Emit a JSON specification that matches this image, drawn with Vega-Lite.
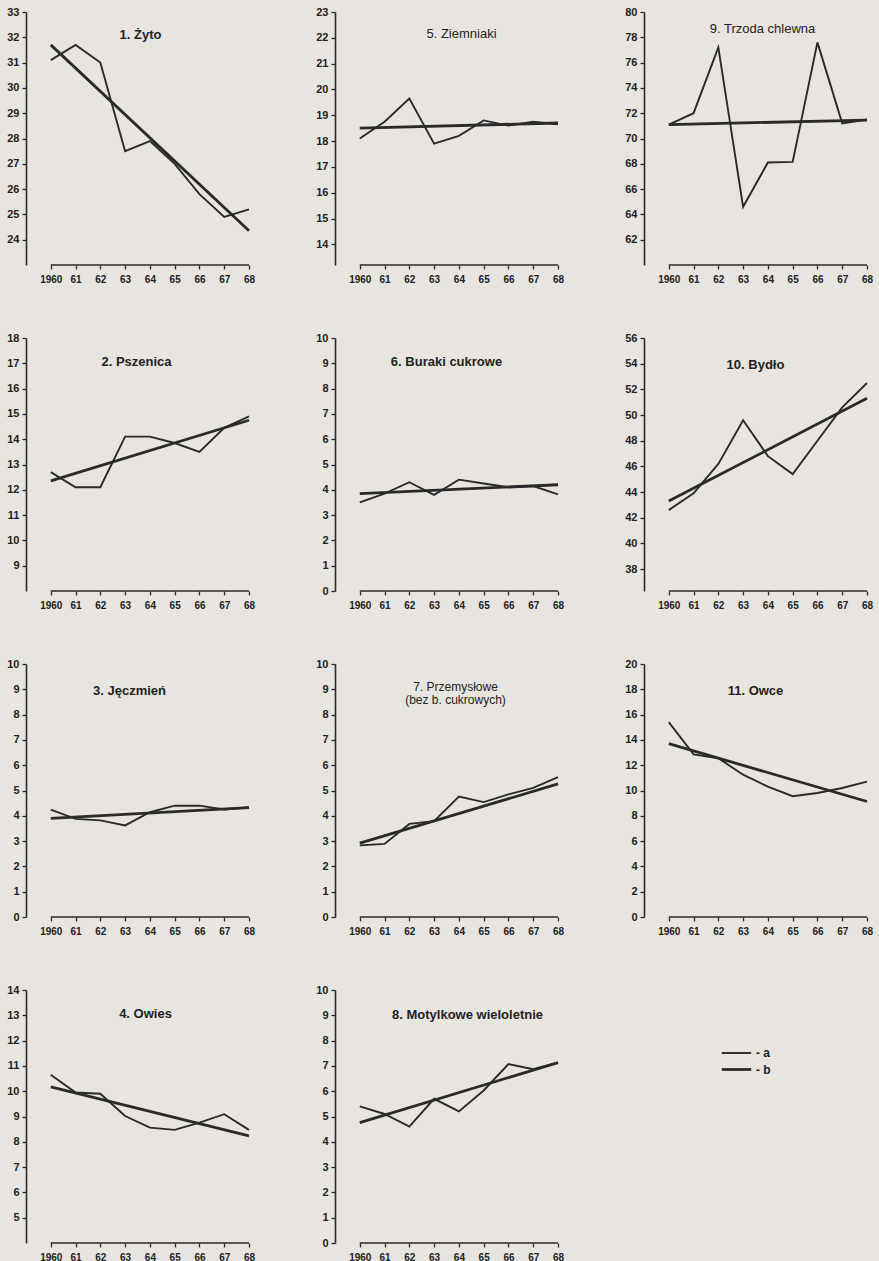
{
  "$schema": "https://vega.github.io/schema/vega-lite/v6.json",
  "background": "#e8e5e1",
  "padding": {"left": 6, "top": 6, "right": 8, "bottom": 14},
  "datasets": {
    "d": [
      {"p":1,"yr":1960,"s":"a","v":31.1},{"p":1,"yr":1961,"s":"a","v":31.7},{"p":1,"yr":1962,"s":"a","v":31.0},{"p":1,"yr":1963,"s":"a","v":27.5},{"p":1,"yr":1964,"s":"a","v":27.9},{"p":1,"yr":1965,"s":"a","v":27.0},{"p":1,"yr":1966,"s":"a","v":25.8},{"p":1,"yr":1967,"s":"a","v":24.9},{"p":1,"yr":1968,"s":"a","v":25.2},
      {"p":1,"yr":1960,"s":"b","v":31.7},{"p":1,"yr":1968,"s":"b","v":24.35},
      {"p":5,"yr":1960,"s":"a","v":18.1},{"p":5,"yr":1961,"s":"a","v":18.75},{"p":5,"yr":1962,"s":"a","v":19.65},{"p":5,"yr":1963,"s":"a","v":17.9},{"p":5,"yr":1964,"s":"a","v":18.2},{"p":5,"yr":1965,"s":"a","v":18.8},{"p":5,"yr":1966,"s":"a","v":18.6},{"p":5,"yr":1967,"s":"a","v":18.75},{"p":5,"yr":1968,"s":"a","v":18.65},
      {"p":5,"yr":1960,"s":"b","v":18.5},{"p":5,"yr":1968,"s":"b","v":18.7},
      {"p":9,"yr":1960,"s":"a","v":71.1},{"p":9,"yr":1961,"s":"a","v":72.0},{"p":9,"yr":1962,"s":"a","v":77.2},{"p":9,"yr":1963,"s":"a","v":64.6},{"p":9,"yr":1964,"s":"a","v":68.1},{"p":9,"yr":1965,"s":"a","v":68.15},{"p":9,"yr":1966,"s":"a","v":77.6},{"p":9,"yr":1967,"s":"a","v":71.2},{"p":9,"yr":1968,"s":"a","v":71.5},
      {"p":9,"yr":1960,"s":"b","v":71.1},{"p":9,"yr":1968,"s":"b","v":71.45},
      {"p":2,"yr":1960,"s":"a","v":12.7},{"p":2,"yr":1961,"s":"a","v":12.1},{"p":2,"yr":1962,"s":"a","v":12.1},{"p":2,"yr":1963,"s":"a","v":14.1},{"p":2,"yr":1964,"s":"a","v":14.1},{"p":2,"yr":1965,"s":"a","v":13.85},{"p":2,"yr":1966,"s":"a","v":13.5},{"p":2,"yr":1967,"s":"a","v":14.45},{"p":2,"yr":1968,"s":"a","v":14.9},
      {"p":2,"yr":1960,"s":"b","v":12.35},{"p":2,"yr":1968,"s":"b","v":14.75},
      {"p":6,"yr":1960,"s":"a","v":3.5},{"p":6,"yr":1961,"s":"a","v":3.85},{"p":6,"yr":1962,"s":"a","v":4.3},{"p":6,"yr":1963,"s":"a","v":3.8},{"p":6,"yr":1964,"s":"a","v":4.4},{"p":6,"yr":1965,"s":"a","v":4.25},{"p":6,"yr":1966,"s":"a","v":4.1},{"p":6,"yr":1967,"s":"a","v":4.15},{"p":6,"yr":1968,"s":"a","v":3.82},
      {"p":6,"yr":1960,"s":"b","v":3.85},{"p":6,"yr":1968,"s":"b","v":4.2},
      {"p":10,"yr":1960,"s":"a","v":42.6},{"p":10,"yr":1961,"s":"a","v":43.9},{"p":10,"yr":1962,"s":"a","v":46.2},{"p":10,"yr":1963,"s":"a","v":49.6},{"p":10,"yr":1964,"s":"a","v":46.8},{"p":10,"yr":1965,"s":"a","v":45.4},{"p":10,"yr":1966,"s":"a","v":48.0},{"p":10,"yr":1967,"s":"a","v":50.6},{"p":10,"yr":1968,"s":"a","v":52.5},
      {"p":10,"yr":1960,"s":"b","v":43.3},{"p":10,"yr":1968,"s":"b","v":51.3},
      {"p":3,"yr":1960,"s":"a","v":4.24},{"p":3,"yr":1961,"s":"a","v":3.88},{"p":3,"yr":1962,"s":"a","v":3.82},{"p":3,"yr":1963,"s":"a","v":3.62},{"p":3,"yr":1964,"s":"a","v":4.14},{"p":3,"yr":1965,"s":"a","v":4.4},{"p":3,"yr":1966,"s":"a","v":4.4},{"p":3,"yr":1967,"s":"a","v":4.25},{"p":3,"yr":1968,"s":"a","v":4.34},
      {"p":3,"yr":1960,"s":"b","v":3.9},{"p":3,"yr":1968,"s":"b","v":4.32},
      {"p":7,"yr":1960,"s":"a","v":2.83},{"p":7,"yr":1961,"s":"a","v":2.89},{"p":7,"yr":1962,"s":"a","v":3.68},{"p":7,"yr":1963,"s":"a","v":3.79},{"p":7,"yr":1964,"s":"a","v":4.76},{"p":7,"yr":1965,"s":"a","v":4.54},{"p":7,"yr":1966,"s":"a","v":4.85},{"p":7,"yr":1967,"s":"a","v":5.1},{"p":7,"yr":1968,"s":"a","v":5.53},
      {"p":7,"yr":1960,"s":"b","v":2.92},{"p":7,"yr":1968,"s":"b","v":5.26},
      {"p":11,"yr":1960,"s":"a","v":15.4},{"p":11,"yr":1961,"s":"a","v":12.85},{"p":11,"yr":1962,"s":"a","v":12.55},{"p":11,"yr":1963,"s":"a","v":11.25},{"p":11,"yr":1964,"s":"a","v":10.3},{"p":11,"yr":1965,"s":"a","v":9.55},{"p":11,"yr":1966,"s":"a","v":9.8},{"p":11,"yr":1967,"s":"a","v":10.2},{"p":11,"yr":1968,"s":"a","v":10.7},
      {"p":11,"yr":1960,"s":"b","v":13.7},{"p":11,"yr":1968,"s":"b","v":9.13},
      {"p":4,"yr":1960,"s":"a","v":10.65},{"p":4,"yr":1961,"s":"a","v":9.95},{"p":4,"yr":1962,"s":"a","v":9.9},{"p":4,"yr":1963,"s":"a","v":9.02},{"p":4,"yr":1964,"s":"a","v":8.56},{"p":4,"yr":1965,"s":"a","v":8.47},{"p":4,"yr":1966,"s":"a","v":8.76},{"p":4,"yr":1967,"s":"a","v":9.09},{"p":4,"yr":1968,"s":"a","v":8.47},
      {"p":4,"yr":1960,"s":"b","v":10.17},{"p":4,"yr":1968,"s":"b","v":8.23},
      {"p":8,"yr":1960,"s":"a","v":5.4},{"p":8,"yr":1961,"s":"a","v":5.1},{"p":8,"yr":1962,"s":"a","v":4.6},{"p":8,"yr":1963,"s":"a","v":5.7},{"p":8,"yr":1964,"s":"a","v":5.2},{"p":8,"yr":1965,"s":"a","v":6.03},{"p":8,"yr":1966,"s":"a","v":7.07},{"p":8,"yr":1967,"s":"a","v":6.87},{"p":8,"yr":1968,"s":"a","v":7.13},
      {"p":8,"yr":1960,"s":"b","v":4.76},{"p":8,"yr":1968,"s":"b","v":7.13}
    ]
  },
  "spacing": 48,
  "vconcat": [
    {"spacing": 60, "hconcat": [
      {"width": 223, "height": 253, "title": {"text": "1. Żyto", "offset": -36, "dx": 3},
       "layer": [
        {"data": {"name": "d"}, "transform": [{"filter": "datum.p==1"}], "mark": {"type": "line", "color": "#2a2a2a"},
         "encoding": {
          "x": {"field": "yr", "type": "quantitative", "scale": {"domain": [1959, 1968], "nice": false, "zero": false}, "axis": {"values": [1960,1961,1962,1963,1964,1965,1966,1967,1968], "labelExpr": "datum.value == 1960 ? '1960' : substring(toString(datum.value), 2)"}},
          "y": {"field": "v", "type": "quantitative", "scale": {"domain": [23, 33], "nice": false, "zero": false}, "axis": {"values": [24,25,26,27,28,29,30,31,32,33]}},
          "detail": {"field": "s"},
          "strokeWidth": {"field": "s", "type": "ordinal", "scale": {"domain": ["a", "b"], "range": [1.9, 2.8]}, "legend": {"orient": "none", "legendX": 700, "legendY": 1031, "title": null, "symbolType": "M-1.7,0H1.7", "symbolSize": 300, "rowPadding": 0, "labelOffset": 9, "labelExpr": "'- ' + datum.label"}}}},
        {"data": {"values": [{}]}, "mark": {"type": "rule", "color": "#2a2a2a", "strokeWidth": 1.6},
         "encoding": {"x": {"datum": 1960, "axis": {"values": [1960,1961,1962,1963,1964,1965,1966,1967,1968], "labelExpr": "datum.value == 1960 ? '1960' : substring(toString(datum.value), 2)"}}, "x2": {"datum": 1968}, "y": {"datum": 23, "axis": {"values": [24,25,26,27,28,29,30,31,32,33]}}}}
       ]},
      {"width": 223, "height": 253, "title": {"text": "5. Ziemniaki", "offset": -35, "dx": 15, "fontWeight": "normal"},
       "layer": [
        {"data": {"name": "d"}, "transform": [{"filter": "datum.p==5"}], "mark": {"type": "line", "color": "#2a2a2a"},
         "encoding": {
          "x": {"field": "yr", "type": "quantitative", "scale": {"domain": [1959, 1968], "nice": false, "zero": false}, "axis": {"values": [1960,1961,1962,1963,1964,1965,1966,1967,1968], "labelExpr": "datum.value == 1960 ? '1960' : substring(toString(datum.value), 2)"}},
          "y": {"field": "v", "type": "quantitative", "scale": {"domain": [13.2, 23], "nice": false, "zero": false}, "axis": {"values": [14,15,16,17,18,19,20,21,22,23]}},
          "detail": {"field": "s"},
          "strokeWidth": {"field": "s", "type": "ordinal", "scale": {"domain": ["a", "b"], "range": [1.9, 2.8]}, "legend": {"orient": "none", "legendX": 700, "legendY": 1031, "title": null, "symbolType": "M-1.7,0H1.7", "symbolSize": 300, "rowPadding": 0, "labelOffset": 9, "labelExpr": "'- ' + datum.label"}}}},
        {"data": {"values": [{}]}, "mark": {"type": "rule", "color": "#2a2a2a", "strokeWidth": 1.6},
         "encoding": {"x": {"datum": 1960, "axis": {"values": [1960,1961,1962,1963,1964,1965,1966,1967,1968], "labelExpr": "datum.value == 1960 ? '1960' : substring(toString(datum.value), 2)"}}, "x2": {"datum": 1968}, "y": {"datum": 13.2, "axis": {"values": [14,15,16,17,18,19,20,21,22,23]}}}}
       ]},
      {"width": 223, "height": 253, "title": {"text": "9. Trzoda chlewna", "offset": -30, "dx": 7, "fontWeight": "normal"},
       "layer": [
        {"data": {"name": "d"}, "transform": [{"filter": "datum.p==9"}], "mark": {"type": "line", "color": "#2a2a2a"},
         "encoding": {
          "x": {"field": "yr", "type": "quantitative", "scale": {"domain": [1959, 1968], "nice": false, "zero": false}, "axis": {"values": [1960,1961,1962,1963,1964,1965,1966,1967,1968], "labelExpr": "datum.value == 1960 ? '1960' : substring(toString(datum.value), 2)"}},
          "y": {"field": "v", "type": "quantitative", "scale": {"domain": [60, 80], "nice": false, "zero": false}, "axis": {"values": [62,64,66,68,70,72,74,76,78,80]}},
          "detail": {"field": "s"},
          "strokeWidth": {"field": "s", "type": "ordinal", "scale": {"domain": ["a", "b"], "range": [1.9, 2.8]}, "legend": {"orient": "none", "legendX": 700, "legendY": 1031, "title": null, "symbolType": "M-1.7,0H1.7", "symbolSize": 300, "rowPadding": 0, "labelOffset": 9, "labelExpr": "'- ' + datum.label"}}}},
        {"data": {"values": [{}]}, "mark": {"type": "rule", "color": "#2a2a2a", "strokeWidth": 1.6},
         "encoding": {"x": {"datum": 1960, "axis": {"values": [1960,1961,1962,1963,1964,1965,1966,1967,1968], "labelExpr": "datum.value == 1960 ? '1960' : substring(toString(datum.value), 2)"}}, "x2": {"datum": 1968}, "y": {"datum": 60, "axis": {"values": [62,64,66,68,70,72,74,76,78,80]}}}}
       ]}
    ]},
    {"spacing": 60, "hconcat": [
      {"width": 223, "height": 253, "title": {"text": "2. Pszenica", "offset": -37, "dx": -1},
       "layer": [
        {"data": {"name": "d"}, "transform": [{"filter": "datum.p==2"}], "mark": {"type": "line", "color": "#2a2a2a"},
         "encoding": {
          "x": {"field": "yr", "type": "quantitative", "scale": {"domain": [1959, 1968], "nice": false, "zero": false}, "axis": {"values": [1960,1961,1962,1963,1964,1965,1966,1967,1968], "labelExpr": "datum.value == 1960 ? '1960' : substring(toString(datum.value), 2)"}},
          "y": {"field": "v", "type": "quantitative", "scale": {"domain": [8, 18], "nice": false, "zero": false}, "axis": {"values": [9,10,11,12,13,14,15,16,17,18]}},
          "detail": {"field": "s"},
          "strokeWidth": {"field": "s", "type": "ordinal", "scale": {"domain": ["a", "b"], "range": [1.9, 2.8]}, "legend": {"orient": "none", "legendX": 700, "legendY": 1031, "title": null, "symbolType": "M-1.7,0H1.7", "symbolSize": 300, "rowPadding": 0, "labelOffset": 9, "labelExpr": "'- ' + datum.label"}}}},
        {"data": {"values": [{}]}, "mark": {"type": "rule", "color": "#2a2a2a", "strokeWidth": 1.6},
         "encoding": {"x": {"datum": 1960, "axis": {"values": [1960,1961,1962,1963,1964,1965,1966,1967,1968], "labelExpr": "datum.value == 1960 ? '1960' : substring(toString(datum.value), 2)"}}, "x2": {"datum": 1968}, "y": {"datum": 8, "axis": {"values": [9,10,11,12,13,14,15,16,17,18]}}}}
       ]},
      {"width": 223, "height": 253, "title": {"text": "6. Buraki cukrowe", "offset": -37},
       "layer": [
        {"data": {"name": "d"}, "transform": [{"filter": "datum.p==6"}], "mark": {"type": "line", "color": "#2a2a2a"},
         "encoding": {
          "x": {"field": "yr", "type": "quantitative", "scale": {"domain": [1959, 1968], "nice": false, "zero": false}, "axis": {"values": [1960,1961,1962,1963,1964,1965,1966,1967,1968], "labelExpr": "datum.value == 1960 ? '1960' : substring(toString(datum.value), 2)"}},
          "y": {"field": "v", "type": "quantitative", "scale": {"domain": [0, 10], "nice": false, "zero": false}, "axis": {"values": [0,1,2,3,4,5,6,7,8,9,10]}},
          "detail": {"field": "s"},
          "strokeWidth": {"field": "s", "type": "ordinal", "scale": {"domain": ["a", "b"], "range": [1.9, 2.8]}, "legend": {"orient": "none", "legendX": 700, "legendY": 1031, "title": null, "symbolType": "M-1.7,0H1.7", "symbolSize": 300, "rowPadding": 0, "labelOffset": 9, "labelExpr": "'- ' + datum.label"}}}},
        {"data": {"values": [{}]}, "mark": {"type": "rule", "color": "#2a2a2a", "strokeWidth": 1.6},
         "encoding": {"x": {"datum": 1960, "axis": {"values": [1960,1961,1962,1963,1964,1965,1966,1967,1968], "labelExpr": "datum.value == 1960 ? '1960' : substring(toString(datum.value), 2)"}}, "x2": {"datum": 1968}, "y": {"datum": 0, "axis": {"values": [0,1,2,3,4,5,6,7,8,9,10]}}}}
       ]},
      {"width": 223, "height": 253, "title": {"text": "10. Bydło", "offset": -40},
       "layer": [
        {"data": {"name": "d"}, "transform": [{"filter": "datum.p==10"}], "mark": {"type": "line", "color": "#2a2a2a"},
         "encoding": {
          "x": {"field": "yr", "type": "quantitative", "scale": {"domain": [1959, 1968], "nice": false, "zero": false}, "axis": {"values": [1960,1961,1962,1963,1964,1965,1966,1967,1968], "labelExpr": "datum.value == 1960 ? '1960' : substring(toString(datum.value), 2)"}},
          "y": {"field": "v", "type": "quantitative", "scale": {"domain": [36.3, 56], "nice": false, "zero": false}, "axis": {"values": [38,40,42,44,46,48,50,52,54,56]}},
          "detail": {"field": "s"},
          "strokeWidth": {"field": "s", "type": "ordinal", "scale": {"domain": ["a", "b"], "range": [1.9, 2.8]}, "legend": {"orient": "none", "legendX": 700, "legendY": 1031, "title": null, "symbolType": "M-1.7,0H1.7", "symbolSize": 300, "rowPadding": 0, "labelOffset": 9, "labelExpr": "'- ' + datum.label"}}}},
        {"data": {"values": [{}]}, "mark": {"type": "rule", "color": "#2a2a2a", "strokeWidth": 1.6},
         "encoding": {"x": {"datum": 1960, "axis": {"values": [1960,1961,1962,1963,1964,1965,1966,1967,1968], "labelExpr": "datum.value == 1960 ? '1960' : substring(toString(datum.value), 2)"}}, "x2": {"datum": 1968}, "y": {"datum": 36.3, "axis": {"values": [38,40,42,44,46,48,50,52,54,56]}}}}
       ]}
    ]},
    {"spacing": 60, "hconcat": [
      {"width": 223, "height": 253, "title": {"text": "3. Jęczmień", "offset": -40, "dx": -8},
       "layer": [
        {"data": {"name": "d"}, "transform": [{"filter": "datum.p==3"}], "mark": {"type": "line", "color": "#2a2a2a"},
         "encoding": {
          "x": {"field": "yr", "type": "quantitative", "scale": {"domain": [1959, 1968], "nice": false, "zero": false}, "axis": {"values": [1960,1961,1962,1963,1964,1965,1966,1967,1968], "labelExpr": "datum.value == 1960 ? '1960' : substring(toString(datum.value), 2)"}},
          "y": {"field": "v", "type": "quantitative", "scale": {"domain": [0, 10], "nice": false, "zero": false}, "axis": {"values": [0,1,2,3,4,5,6,7,8,9,10]}},
          "detail": {"field": "s"},
          "strokeWidth": {"field": "s", "type": "ordinal", "scale": {"domain": ["a", "b"], "range": [1.9, 2.8]}, "legend": {"orient": "none", "legendX": 700, "legendY": 1031, "title": null, "symbolType": "M-1.7,0H1.7", "symbolSize": 300, "rowPadding": 0, "labelOffset": 9, "labelExpr": "'- ' + datum.label"}}}},
        {"data": {"values": [{}]}, "mark": {"type": "rule", "color": "#2a2a2a", "strokeWidth": 1.6},
         "encoding": {"x": {"datum": 1960, "axis": {"values": [1960,1961,1962,1963,1964,1965,1966,1967,1968], "labelExpr": "datum.value == 1960 ? '1960' : substring(toString(datum.value), 2)"}}, "x2": {"datum": 1968}, "y": {"datum": 0, "axis": {"values": [0,1,2,3,4,5,6,7,8,9,10]}}}}
       ]},
      {"width": 223, "height": 253, "title": {"text": ["7. Przemysłowe", "(bez b. cukrowych)"], "offset": -49, "dx": 9, "fontWeight": "normal", "fontSize": 12, "lineHeight": 13},
       "layer": [
        {"data": {"name": "d"}, "transform": [{"filter": "datum.p==7"}], "mark": {"type": "line", "color": "#2a2a2a"},
         "encoding": {
          "x": {"field": "yr", "type": "quantitative", "scale": {"domain": [1959, 1968], "nice": false, "zero": false}, "axis": {"values": [1960,1961,1962,1963,1964,1965,1966,1967,1968], "labelExpr": "datum.value == 1960 ? '1960' : substring(toString(datum.value), 2)"}},
          "y": {"field": "v", "type": "quantitative", "scale": {"domain": [0, 10], "nice": false, "zero": false}, "axis": {"values": [0,1,2,3,4,5,6,7,8,9,10]}},
          "detail": {"field": "s"},
          "strokeWidth": {"field": "s", "type": "ordinal", "scale": {"domain": ["a", "b"], "range": [1.9, 2.8]}, "legend": {"orient": "none", "legendX": 700, "legendY": 1031, "title": null, "symbolType": "M-1.7,0H1.7", "symbolSize": 300, "rowPadding": 0, "labelOffset": 9, "labelExpr": "'- ' + datum.label"}}}},
        {"data": {"values": [{}]}, "mark": {"type": "rule", "color": "#2a2a2a", "strokeWidth": 1.6},
         "encoding": {"x": {"datum": 1960, "axis": {"values": [1960,1961,1962,1963,1964,1965,1966,1967,1968], "labelExpr": "datum.value == 1960 ? '1960' : substring(toString(datum.value), 2)"}}, "x2": {"datum": 1968}, "y": {"datum": 0, "axis": {"values": [0,1,2,3,4,5,6,7,8,9,10]}}}}
       ]},
      {"width": 223, "height": 253, "title": {"text": "11. Owce", "offset": -40},
       "layer": [
        {"data": {"name": "d"}, "transform": [{"filter": "datum.p==11"}], "mark": {"type": "line", "color": "#2a2a2a"},
         "encoding": {
          "x": {"field": "yr", "type": "quantitative", "scale": {"domain": [1959, 1968], "nice": false, "zero": false}, "axis": {"values": [1960,1961,1962,1963,1964,1965,1966,1967,1968], "labelExpr": "datum.value == 1960 ? '1960' : substring(toString(datum.value), 2)"}},
          "y": {"field": "v", "type": "quantitative", "scale": {"domain": [0, 20], "nice": false, "zero": false}, "axis": {"values": [0,2,4,6,8,10,12,14,16,18,20]}},
          "detail": {"field": "s"},
          "strokeWidth": {"field": "s", "type": "ordinal", "scale": {"domain": ["a", "b"], "range": [1.9, 2.8]}, "legend": {"orient": "none", "legendX": 700, "legendY": 1031, "title": null, "symbolType": "M-1.7,0H1.7", "symbolSize": 300, "rowPadding": 0, "labelOffset": 9, "labelExpr": "'- ' + datum.label"}}}},
        {"data": {"values": [{}]}, "mark": {"type": "rule", "color": "#2a2a2a", "strokeWidth": 1.6},
         "encoding": {"x": {"datum": 1960, "axis": {"values": [1960,1961,1962,1963,1964,1965,1966,1967,1968], "labelExpr": "datum.value == 1960 ? '1960' : substring(toString(datum.value), 2)"}}, "x2": {"datum": 1968}, "y": {"datum": 0, "axis": {"values": [0,2,4,6,8,10,12,14,16,18,20]}}}}
       ]}
    ]},
    {"spacing": 60, "hconcat": [
      {"width": 223, "height": 253, "title": {"text": "4. Owies", "offset": -37, "dx": 8},
       "layer": [
        {"data": {"name": "d"}, "transform": [{"filter": "datum.p==4"}], "mark": {"type": "line", "color": "#2a2a2a"},
         "encoding": {
          "x": {"field": "yr", "type": "quantitative", "scale": {"domain": [1959, 1968], "nice": false, "zero": false}, "axis": {"values": [1960,1961,1962,1963,1964,1965,1966,1967,1968], "labelExpr": "datum.value == 1960 ? '1960' : substring(toString(datum.value), 2)"}},
          "y": {"field": "v", "type": "quantitative", "scale": {"domain": [4, 14], "nice": false, "zero": false}, "axis": {"values": [5,6,7,8,9,10,11,12,13,14]}},
          "detail": {"field": "s"},
          "strokeWidth": {"field": "s", "type": "ordinal", "scale": {"domain": ["a", "b"], "range": [1.9, 2.8]}, "legend": {"orient": "none", "legendX": 700, "legendY": 1031, "title": null, "symbolType": "M-1.7,0H1.7", "symbolSize": 300, "rowPadding": 0, "labelOffset": 9, "labelExpr": "'- ' + datum.label"}}}},
        {"data": {"values": [{}]}, "mark": {"type": "rule", "color": "#2a2a2a", "strokeWidth": 1.6},
         "encoding": {"x": {"datum": 1960, "axis": {"values": [1960,1961,1962,1963,1964,1965,1966,1967,1968], "labelExpr": "datum.value == 1960 ? '1960' : substring(toString(datum.value), 2)"}}, "x2": {"datum": 1968}, "y": {"datum": 4, "axis": {"values": [5,6,7,8,9,10,11,12,13,14]}}}}
       ]},
      {"width": 223, "height": 253, "title": {"text": "8. Motylkowe wieloletnie", "offset": -38, "dx": 21},
       "layer": [
        {"data": {"name": "d"}, "transform": [{"filter": "datum.p==8"}], "mark": {"type": "line", "color": "#2a2a2a"},
         "encoding": {
          "x": {"field": "yr", "type": "quantitative", "scale": {"domain": [1959, 1968], "nice": false, "zero": false}, "axis": {"values": [1960,1961,1962,1963,1964,1965,1966,1967,1968], "labelExpr": "datum.value == 1960 ? '1960' : substring(toString(datum.value), 2)"}},
          "y": {"field": "v", "type": "quantitative", "scale": {"domain": [0, 10], "nice": false, "zero": false}, "axis": {"values": [0,1,2,3,4,5,6,7,8,9,10]}},
          "detail": {"field": "s"},
          "strokeWidth": {"field": "s", "type": "ordinal", "scale": {"domain": ["a", "b"], "range": [1.9, 2.8]}, "legend": {"orient": "none", "legendX": 700, "legendY": 1031, "title": null, "symbolType": "M-1.7,0H1.7", "symbolSize": 300, "rowPadding": 0, "labelOffset": 9, "labelExpr": "'- ' + datum.label"}}}},
        {"data": {"values": [{}]}, "mark": {"type": "rule", "color": "#2a2a2a", "strokeWidth": 1.6},
         "encoding": {"x": {"datum": 1960, "axis": {"values": [1960,1961,1962,1963,1964,1965,1966,1967,1968], "labelExpr": "datum.value == 1960 ? '1960' : substring(toString(datum.value), 2)"}}, "x2": {"datum": 1968}, "y": {"datum": 0, "axis": {"values": [0,1,2,3,4,5,6,7,8,9,10]}}}}
       ]}
    ]}
  ],
  "resolve": {"scale": {"x": "independent", "y": "independent"}},
  "config": {
    "view": {"stroke": null},
    "font": "Liberation Sans",
    "title": {"font": "Liberation Sans", "fontSize": 13, "fontWeight": "bold", "color": "#222222", "anchor": "middle"},
    "axis": {"grid": false, "title": null, "domainColor": "#2a2a2a", "domainWidth": 1.6, "tickColor": "#2a2a2a", "tickWidth": 1.3, "tickSize": 4, "labelColor": "#222222", "labelFont": "Liberation Sans", "labelFontWeight": "bold", "labelFontSize": 10, "labelPadding": 3, "labelOverlap": false, "labelFlush": false, "labelBound": false},
    "axisY": {"labelFontSize": 11},
    "axisX": {"domain": false, "labelPadding": 5},
    "legend": {"labelFont": "Liberation Sans", "labelFontWeight": "bold", "labelFontSize": 12, "labelColor": "#222222", "symbolStrokeColor": "#2a2a2a"}
  }
}
